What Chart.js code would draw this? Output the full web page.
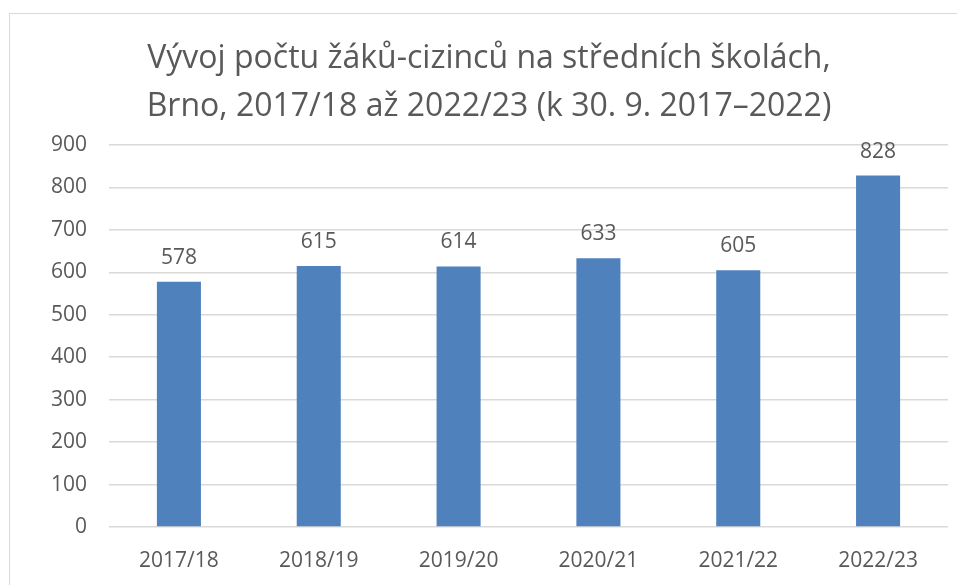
<!DOCTYPE html>
<html>
<head>
<meta charset="utf-8">
<script src="https://cdn.jsdelivr.net/npm/chart.js@4"></script>
<style>
  html, body { margin: 0; padding: 0; background: #fff; }
  #frame { position: absolute; left: 9px; top: 13px; width: 1000px; height: 600px; border: 1.5px solid #d9d9d9; box-sizing: border-box; }
  #wrap { position: absolute; left: 0; top: 0; width: 957px; height: 585px; }
</style>
</head>
<body>
<div id="frame"></div>
<div id="wrap"><canvas id="chart" width="957" height="585"></canvas></div>
<script>
const titleLines = ["Vývoj počtu žáků-cizinců na středních školách,", "Brno, 2017/18 až 2022/23 (k 30. 9. 2017–2022)"];
const years = ["2017/18", "2018/19", "2019/20", "2020/21", "2021/22", "2022/23"];
const pupils = [578, 615, 614, 633, 605, 828];

const textColor = "#595959";
const fontFamily = "'Open Sans', sans-serif";

// value labels above each bar, plus the two-line title
const extras = {
  id: "extras",
  afterDraw(chart) {
    const ctx = chart.ctx;
    ctx.save();
    ctx.fillStyle = textColor;
    ctx.textAlign = "center";
    ctx.textBaseline = "alphabetic";

    ctx.font = "32px " + fontFamily;
    titleLines.forEach((line, i) => ctx.fillText(line, 489, 68 + i * 48));

    ctx.font = "21px " + fontFamily;
    const meta = chart.getDatasetMeta(0);
    meta.data.forEach((bar, i) => {
      ctx.fillText(String(pupils[i]), bar.x, bar.y - 18);
    });
    ctx.restore();
  },
};

new Chart(document.getElementById("chart"), {
  type: "bar",
  data: {
    labels: years,
    datasets: [
      {
        data: pupils,
        backgroundColor: "#4f81bd",
        borderWidth: 0,
        categoryPercentage: 1,
        barPercentage: 0.315,
      },
    ],
  },
  options: {
    responsive: false,
    animation: false,
    layout: { padding: { left: 0, right: 9, top: 145, bottom: 0 } },
    plugins: {
      legend: { display: false },
      tooltip: { enabled: false },
      title: { display: false },
    },
    scales: {
      x: {
        grid: { display: false },
        border: { display: false },
        ticks: {
          color: textColor,
          font: { family: fontFamily, size: 21 },
          padding: 13,
          maxRotation: 0,
        },
        afterFit: (s) => { s.height = 58; },
      },
      y: {
        min: 0,
        max: 900,
        grid: { color: "#d9d9d9", lineWidth: 1.5, drawTicks: false },
        border: { display: false },
        ticks: {
          stepSize: 100,
          color: textColor,
          font: { family: fontFamily, size: 21 },
          padding: 22,
        },
        afterFit: (s) => { s.width = 109; },
      },
    },
  },
  plugins: [extras],
});
</script>
</body>
</html>
